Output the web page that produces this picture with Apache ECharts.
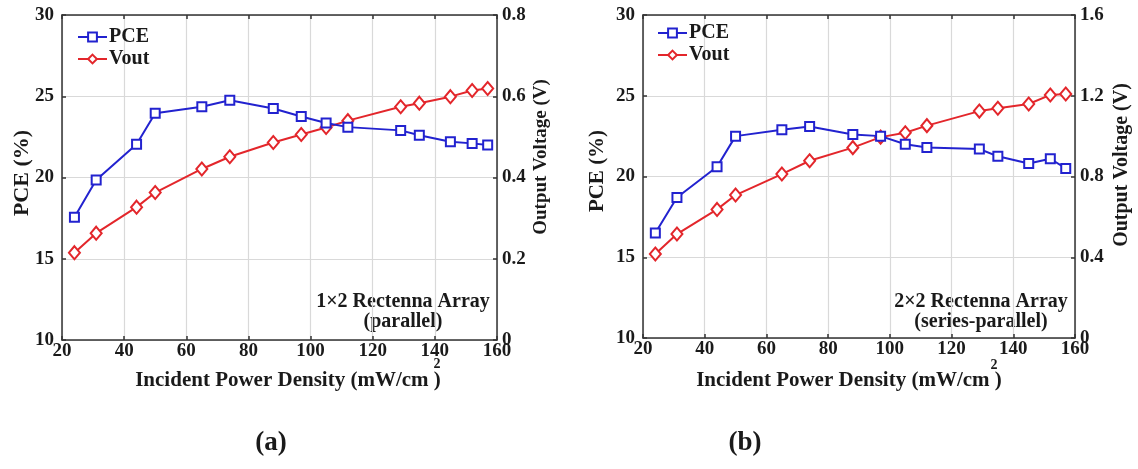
<!DOCTYPE html>
<html>
<head>
<meta charset="utf-8">
<script src="https://cdn.jsdelivr.net/npm/echarts@6/dist/echarts.min.js"></script>
<style>
html,body{margin:0;padding:0;background:#fff;}
#c{width:1138px;height:469px;}
</style>
</head>
<body>
<div id="c"></div>
<script>
// Data
var xVals = [24, 31, 44, 50, 65, 74, 88, 97, 105, 112, 129, 135, 145, 152, 157];
var pceA  = [17.55, 19.85, 22.05, 23.95, 24.35, 24.75, 24.25, 23.75, 23.35, 23.1, 22.9, 22.6, 22.2, 22.1, 22.0];
var voutA = [0.215, 0.263, 0.327, 0.363, 0.421, 0.451, 0.486, 0.506, 0.523, 0.54, 0.574, 0.583, 0.599, 0.614, 0.619];
var pceB  = [16.5, 18.7, 20.6, 22.5, 22.9, 23.1, 22.6, 22.5, 22.0, 21.8, 21.7, 21.25, 20.8, 21.1, 20.5];
var voutB = [0.416, 0.515, 0.637, 0.708, 0.812, 0.878, 0.943, 0.995, 1.017, 1.052, 1.124, 1.138, 1.159, 1.204, 1.209];
var seriesNames = ['PCE', 'Vout'];
var xTicks = [20, 40, 60, 80, 100, 120, 140, 160];
var pceTicks = [10, 15, 20, 25, 30];
var voutTicksA = [0, 0.2, 0.4, 0.6, 0.8];
var voutTicksB = [0, 0.4, 0.8, 1.2, 1.6];
var xName = 'Incident Power Density (mW/cm )';
var xNameSup = '2';
var yNameL = 'PCE (%)';
var yNameR = 'Output Voltage (V)';
var annotA = ['1\u00d72 Rectenna Array', '(parallel)'];
var annotB = ['2\u00d72 Rectenna Array', '(series-parallel)'];
var captions = ['(a)', '(b)'];

function pairs(xs, ys) { return xs.map(function (x, i) { return [x, ys[i]]; }); }

var FONT = 'Liberation Serif';
var BLUE = '#2222cf';
var RED = '#e3262b';
var AXC = '#333333';
var GRIDC = '#d9d9d9';
var TXT = '#1a1a1a';

function xAxisBottom(g) {
  return {
    type: 'value', gridIndex: g, position: 'bottom',
    min: xTicks[0], max: xTicks[xTicks.length - 1], interval: xTicks[1] - xTicks[0],
    axisLine: { show: true, lineStyle: { color: AXC, width: 1.5 } },
    axisTick: { show: true, inside: true, length: 4, lineStyle: { color: AXC, width: 1.5 } },
    axisLabel: { color: TXT, fontFamily: FONT, fontWeight: 'bold', fontSize: 19, margin: 2 },
    splitLine: { show: true, lineStyle: { color: GRIDC, width: 1.2 } }
  };
}
function xAxisTop(g) {
  return {
    type: 'value', gridIndex: g, position: 'top',
    min: xTicks[0], max: xTicks[xTicks.length - 1], interval: xTicks[1] - xTicks[0],
    axisLine: { show: true, lineStyle: { color: AXC, width: 1.5 } },
    axisTick: { show: true, inside: true, length: 4, lineStyle: { color: AXC, width: 1.5 } },
    axisLabel: { show: false },
    splitLine: { show: false }
  };
}
function yLeft(g) {
  return {
    type: 'value', gridIndex: g, position: 'left',
    min: pceTicks[0], max: pceTicks[pceTicks.length - 1], interval: pceTicks[1] - pceTicks[0],
    axisLine: { show: true, lineStyle: { color: AXC, width: 1.5 } },
    axisTick: { show: true, inside: true, length: 4, lineStyle: { color: AXC, width: 1.5 } },
    axisLabel: { color: TXT, fontFamily: FONT, fontWeight: 'bold', fontSize: 19, margin: 8 },
    splitLine: { show: true, lineStyle: { color: GRIDC, width: 1.2 } }
  };
}
function yRight(g, ticks) {
  return {
    type: 'value', gridIndex: g, position: 'right',
    min: ticks[0], max: ticks[ticks.length - 1], interval: ticks[1] - ticks[0],
    axisLine: { show: true, lineStyle: { color: AXC, width: 1.5 } },
    axisTick: { show: true, inside: true, length: 4, lineStyle: { color: AXC, width: 1.5 } },
    axisLabel: { color: TXT, fontFamily: FONT, fontWeight: 'bold', fontSize: 19, margin: 5,
      formatter: function (v) { return String(Math.round(v * 10) / 10); } },
    splitLine: { show: false }
  };
}
function lineSeries(name, xi, yi, data, color, symbol, size) {
  return {
    name: name, type: 'line', xAxisIndex: xi, yAxisIndex: yi,
    data: data, symbol: symbol, symbolSize: size, showSymbol: true,
    lineStyle: { color: color, width: 2 },
    itemStyle: { color: '#fff', borderColor: color, borderWidth: 2 },
    emphasis: { disabled: true }, animation: false, z: name === 'PCE' ? 3 : 2
  };
}
function legend(left, top) {
  return {
    orient: 'vertical', left: left, top: top, itemWidth: 29, itemHeight: 11, itemGap: 2,
    data: seriesNames,
    textStyle: { color: TXT, fontFamily: FONT, fontWeight: 'bold', fontSize: 20, padding: [0, 0, 0, -3] },
    itemStyle: { color: '#fff', borderWidth: 2 }
  };
}
function ctext(cx, cy, t, size, rot) {
  return { type: 'text', x: cx, y: cy, rotation: rot || 0,
    style: { text: t, fill: TXT, font: 'bold ' + size + 'px "' + FONT + '"', align: 'center', verticalAlign: 'middle' } };
}

var chart = echarts.init(document.getElementById('c'), null, { renderer: 'canvas' });
chart.setOption({
  backgroundColor: '#fff',
  animation: false,
  grid: [
    { left: 62, top: 15, width: 435, height: 325 },
    { left: 643, top: 15, width: 432, height: 323 }
  ],
  legend: [legend(72, 22), legend(652, 18)],
  xAxis: [xAxisBottom(0), xAxisTop(0), xAxisBottom(1), xAxisTop(1)],
  yAxis: [yLeft(0), yRight(0, voutTicksA), yLeft(1), yRight(1, voutTicksB)],
  series: [
    lineSeries(seriesNames[0], 0, 0, pairs(xVals, pceA), BLUE, 'rect', 9),
    lineSeries(seriesNames[1], 0, 1, pairs(xVals, voutA), RED, 'diamond', [11, 13]),
    lineSeries(seriesNames[0], 2, 2, pairs(xVals, pceB), BLUE, 'rect', 9),
    lineSeries(seriesNames[1], 2, 3, pairs(xVals, voutB), RED, 'diamond', [11, 13])
  ],
  graphic: [
    ctext(288, 381, xName, 21),
    ctext(437, 364, xNameSup, 14),
    ctext(849, 381, xName, 21),
    ctext(994, 365, xNameSup, 14),
    ctext(22, 173, yNameL, 22, Math.PI / 2),
    ctext(541, 157, yNameR, 19, Math.PI / 2),
    ctext(598, 171, yNameL, 21, Math.PI / 2),
    ctext(1122, 165, yNameR, 20, Math.PI / 2),
    ctext(403, 302, annotA[0], 20),
    ctext(403, 322, annotA[1], 20),
    ctext(981, 302, annotB[0], 20),
    ctext(981, 322, annotB[1], 20),
    ctext(271, 443, captions[0], 27),
    ctext(745, 443, captions[1], 27)
  ]
});
</script>
</body>
</html>
